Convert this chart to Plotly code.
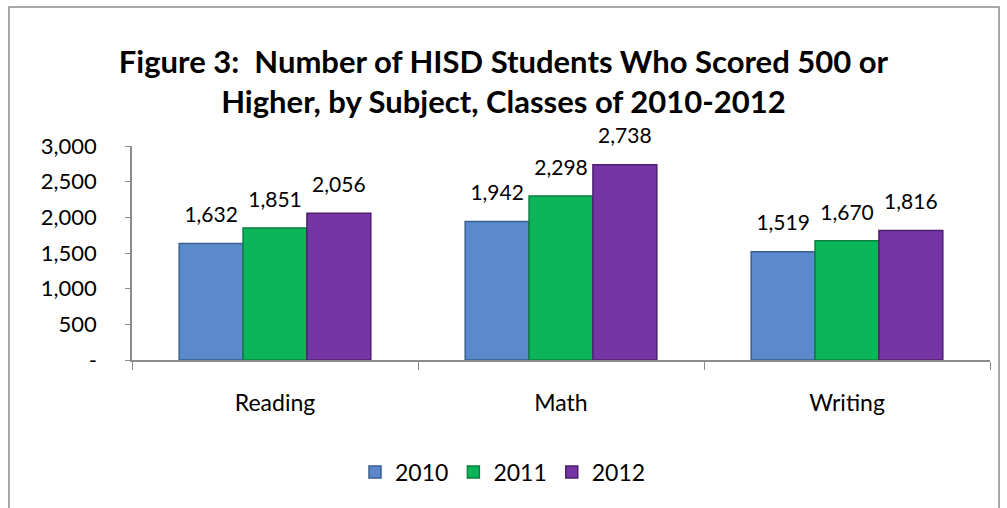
import plotly.graph_objects as go

subjects = ["Reading", "Math", "Writing"]
years = ["2010", "2011", "2012"]
values_2010 = [1632, 1942, 1519]
values_2011 = [1851, 2298, 1670]
values_2012 = [2056, 2738, 1816]
ytick_vals = [0, 500, 1000, 1500, 2000, 2500, 3000]
ytick_text = ["-", "500", "1,000", "1,500", "2,000", "2,500", "3,000"]

colors = ["#5A8ACB", "#0DB55A", "#7535A5"]
edges = ["#3B5F8E", "#08803F", "#4C1F70"]
series = [values_2010, values_2011, values_2012]

FONT = "Lato, 'Open Sans', sans-serif"

fig = go.Figure()
for name, vals, c, e in zip(years, series, colors, edges):
    fig.add_trace(go.Bar(
        x=subjects, y=vals, name=name, offsetgroup=name,
        marker=dict(color=c, line=dict(color=e, width=1.5)),
    ))
for name, vals in zip(years, series):
    fig.add_trace(go.Scatter(
        x=subjects, y=vals, name=name + " labels", offsetgroup=name,
        mode="markers+text", marker=dict(size=24, opacity=0),
        text=[f"{v:,}" for v in vals], textposition="top center",
        textfont=dict(size=21, color="#000000", family=FONT),
        cliponaxis=False, showlegend=False, hoverinfo="skip",
    ))

W, H = 1007, 508
L, R, T, B = 132, 17, 146, 148
pw = W - L - R
ph = H - T - B

def px_x(x):
    return (x - L) / pw

def px_y(y):
    return (H - B - y) / ph

fig.add_shape(type="rect", xref="paper", yref="paper",
              x0=px_x(9), x1=px_x(999), y0=px_y(520), y1=px_y(7),
              line=dict(color="#8C8C8C", width=1.5), fillcolor="rgba(0,0,0,0)", layer="below")

fig.update_layout(
    width=W, height=H,
    margin=dict(l=L, r=R, t=T, b=B),
    paper_bgcolor="white", plot_bgcolor="white",
    barmode="group", bargap=0.33, bargroupgap=0.0,
    scattermode="group", scattergap=0.33,
    font=dict(family=FONT, size=22, color="#000000"),
    title=dict(text="<b>Figure 3:  Number of HISD Students Who Scored 500 or<br>Higher, by Subject, Classes of 2010-2012</b>",
               x=0.5, xref="container", xanchor="center", y=1 - 73 / H, yanchor="middle",
               font=dict(size=31, family=FONT, color="#000000")),
    legend=dict(orientation="h", x=0.5 + (503 - (L + pw / 2)) / pw, xanchor="center", xref="paper",
                y=px_y(472), yanchor="middle", font=dict(size=23, family=FONT),
                traceorder="normal", itemwidth=30),
    showlegend=True,
)
fig.update_xaxes(showline=True, linecolor="#8C8C8C", linewidth=1.5,
                 ticks="outside", tickson="boundaries", ticklen=8, tickcolor="#8C8C8C",
                 tickfont=dict(size=23), showgrid=False, ticklabelstandoff=22)
fig.update_yaxes(range=[0, 3000], tickvals=ytick_vals, ticktext=ytick_text,
                 showline=True, linecolor="#8C8C8C", linewidth=1.5,
                 ticks="outside", ticklen=5, tickcolor="#8C8C8C",
                 tickfont=dict(size=22), showgrid=False, zeroline=False,
                 ticklabelstandoff=24)

fig.write_html("out.html", config={"displayModeBar": False},
               post_script="document.body.style.margin='0px';")
